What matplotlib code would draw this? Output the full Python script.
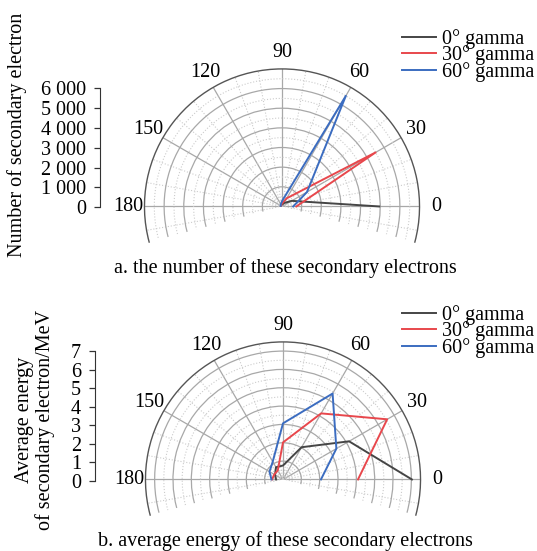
import numpy as np
import matplotlib
matplotlib.use('Agg')
import matplotlib.pyplot as plt
from matplotlib.ticker import FixedLocator, FuncFormatter

plt.rcParams['font.family'] = ['Liberation Serif', 'DejaVu Serif']

# angles of the data points (degrees)
angles = [0, 30, 60, 90, 120, 150, 180]
labels = ['0° gamma', '30° gamma', '60° gamma']

# a. number of secondary electrons
count_0 = [4950, 570, 200, 100, 80, 60, 50]
count_30 = [730, 5500, 480, 150, 80, 50, 50]
count_60 = [570, 1470, 6500, 270, 120, 80, 60]

# b. average energy of secondary electrons (MeV)
energy_0 = [7.03, 4.16, 2.03, 0.76, 0.77, 0.5, 0.38]
energy_30 = [4.09, 6.56, 4.16, 2.02, 0.57, 0.55, 0.6]
energy_60 = [2.07, 3.36, 5.41, 3.06, 1.12, 0.85, 0.63]

colors = ['#454545', '#e8474c', '#3b6cc0']

W, H = 537, 551
fig = plt.figure(figsize=(W / 100, H / 100), dpi=100)


def fx(px):
    return px / W


def fy(py):
    return 1 - py / H


def polar_panel(cx, cy, R, series, rmax, rstep):
    # the wedge (-15..195 deg) is fitted to the width of a square axes box
    s = np.sin(np.deg2rad(15))
    sq_cy = cy - R * (1 - s) / 2
    ax = fig.add_axes([fx(cx - R), fy(sq_cy + R), 2 * R / W, 2 * R / H],
                      projection='polar')
    ax.set_thetamin(-15)
    ax.set_thetamax(195)
    ax.set_ylim(0, rmax)
    th = np.deg2rad(angles)
    for vals, c, lab in zip(series, colors, labels):
        ax.plot(th, vals, color=c, lw=1.4, label=lab)
    ax.set_thetagrids(angles, [str(a) for a in angles], fontsize=14.5)
    ax.xaxis.set_minor_locator(FixedLocator(np.deg2rad(np.arange(-10, 191, 10))))
    major_r = np.arange(rstep * 2, rmax - 1e-9, rstep * 2)
    minor_r = np.arange(rstep, rmax - 1e-9, rstep * 2)
    ax.set_yticks(major_r)
    ax.yaxis.set_minor_locator(FixedLocator(minor_r))
    ax.set_yticklabels([])
    ax.grid(which='major', color='#a8a8a8', lw=0.9, ls='-')
    ax.grid(which='minor', color='#cccccc', lw=0.8, ls=':')
    ax.tick_params(axis='x', which='both', length=0, pad=5)
    ax.tick_params(axis='y', which='both', length=0)
    ax.spines['polar'].set_color('#555555')
    ax.spines['polar'].set_linewidth(1.0)
    ax.spines['start'].set_color('none')
    ax.spines['end'].set_color('none')
    ax.set_axisbelow(True)
    return ax


def left_axis(x, y0, y1, ymax, step, fmt):
    ax = fig.add_axes([fx(x), fy(y0), 0.001, fy(y1) - fy(y0)])
    ax.set_ylim(0, ymax)
    ax.set_yticks(np.arange(0, ymax + 1e-9, step))
    ax.yaxis.set_major_formatter(FuncFormatter(fmt))
    ax.set_xticks([])
    for sp in ['top', 'right', 'bottom']:
        ax.spines[sp].set_visible(False)
    ax.spines['left'].set_color('#333333')
    ax.patch.set_alpha(0)
    ax.tick_params(axis='y', length=4, width=0.9, color='#333333', labelsize=14.5, pad=6)
    return ax


legend_kw = dict(loc='upper left', frameon=False, fontsize=14.5, handlelength=1.7,
                 handletextpad=0.3, labelspacing=-0.17, borderpad=0, borderaxespad=0)

# panel a
pa = polar_panel(282, 207, 139, [count_0, count_30, count_60], 7000, 500)
left_axis(100, 207.3, 88.3, 6000, 1000,
          lambda v, p: '0' if v == 0 else f'{int(v):,}'.replace(',', ' '))
fig.text(fx(17), fy(135), 'Number of secondary electron', rotation=90,
         ha='center', va='center', fontsize=14.5)
fig.text(fx(285), fy(268), 'a. the number of these secondary electrons',
         ha='center', va='center', fontsize=14.5)
h, l = pa.get_legend_handles_labels()
fig.legend(h, l, bbox_to_anchor=(fx(402), fy(29)), **legend_kw)

# panel b
pb = polar_panel(283, 480, 139, [energy_0, energy_30, energy_60], 7.5, 0.5)
left_axis(95, 480.7, 351, 7, 1, lambda v, p: f'{int(v)}')
fig.text(fx(35), fy(420), 'Average energy\nof secondary electron/MeV', rotation=90,
         ha='center', va='center', fontsize=14.5, linespacing=1.05)
fig.text(fx(285), fy(541), 'b. average energy of these secondary electrons',
         ha='center', va='center', fontsize=14.5)
h, l = pb.get_legend_handles_labels()
fig.legend(h, l, bbox_to_anchor=(fx(402), fy(305)), **legend_kw)

fig.savefig('out.png', dpi=100)
